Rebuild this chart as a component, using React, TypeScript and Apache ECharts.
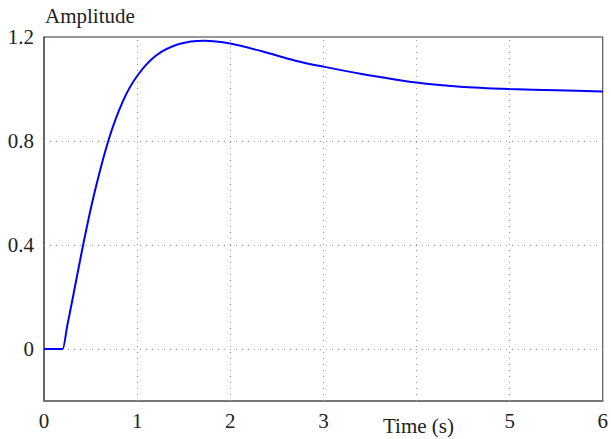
import React, { useEffect, useRef } from "react";
import * as echarts from "echarts";

const timeValues = [0, 0.1, 0.19, 0.2, 0.25, 0.31, 0.42, 0.53, 0.69, 0.85, 1.0, 1.2, 1.45, 1.72, 2.0, 2.34, 2.7, 3.0, 3.41, 4.0, 4.47, 5.0, 5.5, 6.0];
const amplitudeValues = [0, 0, 0, 0, 0.09, 0.198, 0.4, 0.583, 0.8, 0.955, 1.05, 1.128, 1.173, 1.186, 1.175, 1.145, 1.109, 1.086, 1.058, 1.025, 1.009, 1.0, 0.995, 0.99];
const yTickValues = [0, 0.4, 0.8, 1.2];
const yGridValues = [0, 0.4, 0.8];
const xGridValues = [1, 2, 3, 4, 5];
const xHiddenLabel = 4;
const yTitle = "Amplitude";
const xTitle = "Time (s)";

const FONT = "serif";

export default function App() {
  const ref = useRef<HTMLDivElement>(null);
  useEffect(() => {
    if (!ref.current) return;
    const chart = echarts.init(ref.current, null, { renderer: "svg" });
    const data = timeValues.map((t, i) => [t, amplitudeValues[i]]);
    const gridStyle = { color: "#9a9a9a", width: 1, type: [1, 5] as number[] };
    chart.setOption({
      animation: false,
      backgroundColor: "#ffffff",
      textStyle: { fontFamily: FONT },
      grid: {
        left: 44,
        right: 6,
        top: 37,
        bottom: 38,
        show: true,
        borderColor: "#333",
        borderWidth: 1,
        backgroundColor: "transparent",
      },
      xAxis: {
        type: "value",
        min: 0,
        max: 6,
        interval: 1,
        axisLine: { show: true, onZero: false, lineStyle: { color: "#777", width: 2 } },
        axisTick: { show: false },
        splitLine: { show: false },
        axisLabel: {
          margin: 9,
          color: "#222",
          fontFamily: FONT,
          fontSize: 21,
          formatter: (v: number) => (v === xHiddenLabel ? "" : String(v)),
        },
      },
      yAxis: {
        type: "value",
        min: -0.2,
        max: 1.2,
        interval: 0.2,
        axisLine: { show: true, onZero: false, lineStyle: { color: "#555", width: 1.5 } },
        axisTick: { show: false },
        splitLine: { show: false },
        axisLabel: {
          margin: 10,
          color: "#222",
          fontFamily: FONT,
          fontSize: 21,
          formatter: (v: number) => {
            const r = Math.round(v * 10) / 10;
            return yTickValues.some((t) => Math.abs(t - r) < 1e-6) ? String(r) : "";
          },
        },
      },
      graphic: [
        {
          type: "text",
          left: 45,
          top: 5,
          style: { text: yTitle, fontFamily: FONT, fontSize: 21, fill: "#222" },
        },
        {
          type: "text",
          left: 383,
          top: 415,
          style: { text: xTitle, fontFamily: FONT, fontSize: 21, fill: "#222" },
        },
      ],
      series: [
        {
          type: "line",
          data,
          smooth: 0.3,
          showSymbol: false,
          symbol: "none",
          lineStyle: { color: "#0000ff", width: 2 },
          z: 5,
          markLine: {
            silent: true,
            symbol: "none",
            label: { show: false },
            lineStyle: gridStyle,
            data: [
              ...yGridValues.map((y) => ({ yAxis: y })),
              ...xGridValues.map((x) => ({ xAxis: x })),
            ],
            z: 1,
          },
        },
      ],
    });
    return () => chart.dispose();
  }, []);
  return <div ref={ref} style={{ width: 611, height: 439, position: "absolute", left: 0, top: 0 }} />;
}
